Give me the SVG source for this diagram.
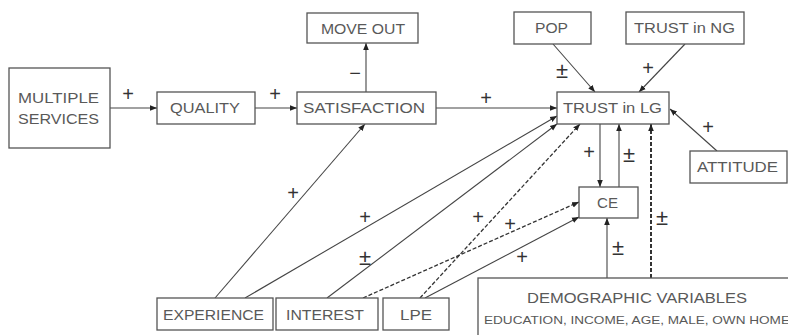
<svg xmlns="http://www.w3.org/2000/svg" width="788" height="335" viewBox="0 0 788 335">
<defs>
<marker id="ah" viewBox="0 0 10 10" refX="10" refY="5" markerWidth="7" markerHeight="7" markerUnits="userSpaceOnUse" orient="auto">
<path d="M0,1 L10,5 L0,9 Z" fill="#222"/>
</marker>
<style>
.box{fill:#fff;stroke:#555;stroke-width:1.3}
.lbl{font-family:"Liberation Sans",Arial,sans-serif;font-size:14px;fill:#595959}
.sm{font-family:"Liberation Sans",Arial,sans-serif;font-size:10.5px;fill:#595959}
.c{fill:none;stroke:#444;stroke-width:1.1}
.d{fill:none;stroke:#333;stroke-width:1.3;stroke-dasharray:4,2}
.dt{fill:none;stroke:#333;stroke-width:2;stroke-dasharray:4,2}
.sg{font-family:"Liberation Sans",Arial,sans-serif;font-size:20px;fill:#333;text-anchor:middle}
.pm{font-family:"Liberation Sans",Arial,sans-serif;font-size:22px;fill:#333;text-anchor:middle}
</style>
</defs>
<rect width="788" height="335" fill="#fff"/>
<g id="connectors">
<path class="c" d="M110,108 L157,108" marker-end="url(#ah)"/>
<path class="c" d="M255,108 L297,108" marker-end="url(#ah)"/>
<path class="c" d="M366,92 L366,43" marker-end="url(#ah)"/>
<path class="c" d="M436,108 L557,108" marker-end="url(#ah)"/>
<path class="c" d="M553,44 L595,92" marker-end="url(#ah)"/>
<path class="c" d="M685,44 L639,92" marker-end="url(#ah)"/>
<path class="c" d="M717,151 L670,109" marker-end="url(#ah)"/>
<path class="c" d="M600,124 L600,187" marker-end="url(#ah)"/>
<path class="c" d="M619,187 L619,124" marker-end="url(#ah)"/>
<path class="dt" d="M651,278 L651,124" marker-end="url(#ah)"/>
<path class="c" d="M607,278 L607,218" marker-end="url(#ah)"/>
<path class="c" d="M215,298 L365,124" marker-end="url(#ah)"/>
<path class="c" d="M245,298 L557,116" marker-end="url(#ah)"/>
<path class="c" d="M327,298 L557,124" marker-end="url(#ah)"/>
<path class="d" d="M363,298 L579,202" marker-end="url(#ah)"/>
<path class="d" d="M420,298 L580,124" marker-end="url(#ah)"/>
<path class="c" d="M425,298 L579,217" marker-end="url(#ah)"/>
</g>
<g id="signs">
<text class="sg" x="128" y="101">+</text>
<text class="sg" x="275" y="101">+</text>
<text class="sg" x="355" y="80">−</text>
<text class="sg" x="486" y="105">+</text>
<text class="pm" x="562" y="78">±</text>
<text class="sg" x="648" y="75">+</text>
<text class="sg" x="708" y="134">+</text>
<text class="sg" x="589" y="159">+</text>
<text class="pm" x="629" y="162">±</text>
<text class="pm" x="662" y="225">±</text>
<text class="pm" x="618" y="255">±</text>
<text class="sg" x="293" y="200">+</text>
<text class="sg" x="365" y="224">+</text>
<text class="pm" x="365" y="265">±</text>
<text class="sg" x="478" y="224">+</text>
<text class="sg" x="510" y="231">+</text>
<text class="sg" x="522" y="264">+</text>
</g>
<g id="multiple-services"><rect class="box" x="9" y="68" width="101" height="80"/><text class="lbl" x="18" y="103" textLength="81" lengthAdjust="spacingAndGlyphs">MULTIPLE</text><text class="lbl" x="18" y="124" textLength="81" lengthAdjust="spacingAndGlyphs">SERVICES</text></g>
<g id="quality"><rect class="box" x="157" y="92" width="98" height="32"/><text class="lbl" x="170" y="113" textLength="70" lengthAdjust="spacingAndGlyphs">QUALITY</text></g>
<g id="satisfaction"><rect class="box" x="297" y="92" width="139" height="32"/><text class="lbl" x="303" y="113" textLength="122" lengthAdjust="spacingAndGlyphs">SATISFACTION</text></g>
<g id="move-out"><rect class="box" x="307" y="13" width="111" height="30"/><text class="lbl" x="321" y="34" textLength="84" lengthAdjust="spacingAndGlyphs">MOVE OUT</text></g>
<g id="trust-lg"><rect class="box" x="557" y="92" width="112" height="32"/><text class="lbl" x="563" y="113" textLength="99" lengthAdjust="spacingAndGlyphs">TRUST in LG</text></g>
<g id="pop"><rect class="box" x="514" y="12" width="77" height="32"/><text class="lbl" x="535" y="33" textLength="33" lengthAdjust="spacingAndGlyphs">POP</text></g>
<g id="trust-ng"><rect class="box" x="626" y="12" width="118" height="32"/><text class="lbl" x="634" y="33" textLength="101" lengthAdjust="spacingAndGlyphs">TRUST in NG</text></g>
<g id="attitude"><rect class="box" x="690" y="151" width="97" height="32"/><text class="lbl" x="697" y="172" textLength="81" lengthAdjust="spacingAndGlyphs">ATTITUDE</text></g>
<g id="ce"><rect class="box" x="579" y="187" width="59" height="31"/><text class="lbl" x="597" y="208" textLength="21" lengthAdjust="spacingAndGlyphs">CE</text></g>
<g id="experience"><rect class="box" x="157" y="298" width="116" height="32"/><text class="lbl" x="163" y="320" textLength="101" lengthAdjust="spacingAndGlyphs">EXPERIENCE</text></g>
<g id="interest"><rect class="box" x="276" y="298" width="102" height="32"/><text class="lbl" x="286" y="320" textLength="78" lengthAdjust="spacingAndGlyphs">INTEREST</text></g>
<g id="lpe"><rect class="box" x="383" y="298" width="66" height="32"/><text class="lbl" x="400" y="320" textLength="32" lengthAdjust="spacingAndGlyphs">LPE</text></g>
<g id="demographic"><rect class="box" x="478" y="278" width="330" height="70"/><text class="lbl" x="527" y="303" textLength="220" lengthAdjust="spacingAndGlyphs">DEMOGRAPHIC VARIABLES</text><text class="sm" x="484" y="324" textLength="306" lengthAdjust="spacingAndGlyphs">EDUCATION, INCOME, AGE, MALE, OWN HOME</text></g>
</svg>
